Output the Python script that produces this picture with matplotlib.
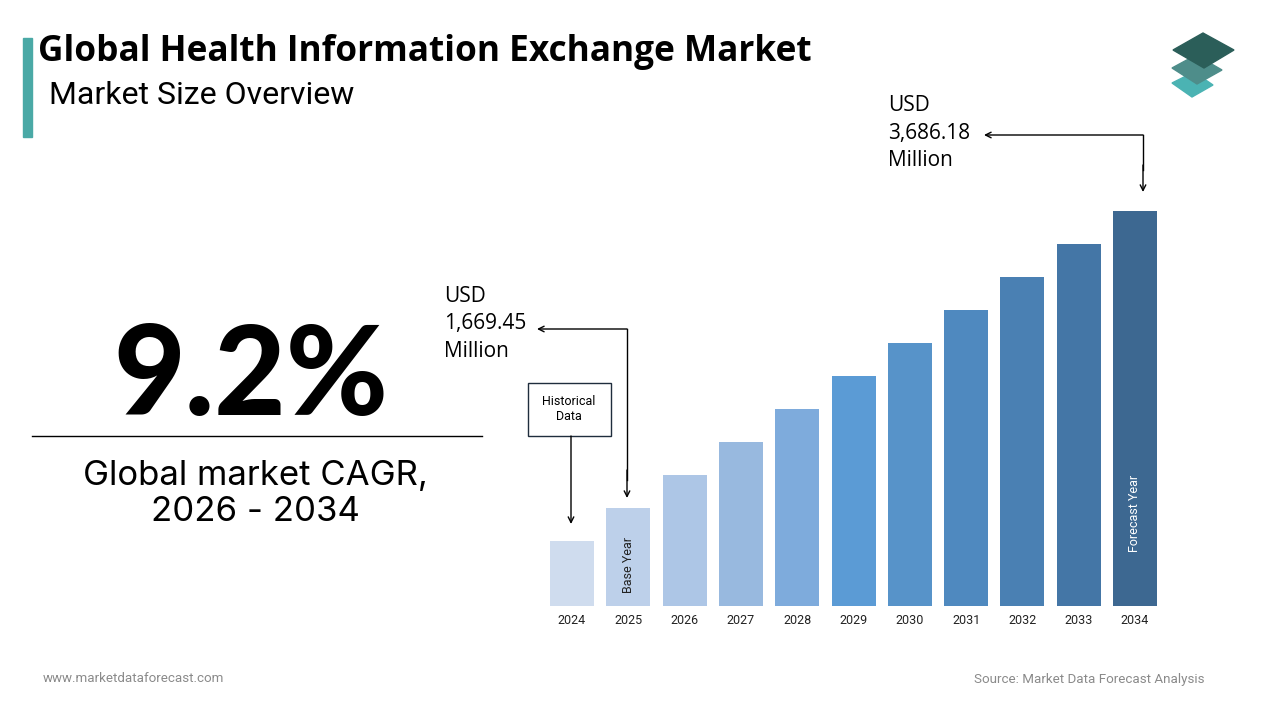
import matplotlib.pyplot as plt
from matplotlib.patches import Polygon, Rectangle

years = ['2024', '2025', '2026', '2027', '2028', '2029', '2030', '2031', '2032', '2033', '2034']
# bar heights as drawn (illustrative, not to scale with the USD values)
heights = [65, 98, 131, 164, 197, 230, 263, 296, 329, 362, 395]
bar_colors = ['#cfdcee', '#bdd0ea', '#adc6e6', '#98b9df', '#7eabdc', '#5b9bd5',
              '#5793c9', '#4f89bf', '#4a80b3', '#4476a6', '#3d6891']
value_2025 = '1,669.45'
value_2034 = '3,686.18'
cagr = '9.2%'
cagr_label = 'Global market CAGR,\n2026 - 2034'
title = 'Global Health Information Exchange Market'
subtitle = 'Market Size Overview'

W, H = 1280, 720
fig = plt.figure(figsize=(12.8, 7.2), dpi=100)
fig.patch.set_facecolor('white')

# bar chart axes, placed in pixel terms
step = 56.3
left_px, right_px = 540, 1170
bottom_px, top_px = 606, 206
ax = fig.add_axes([left_px / W, 1 - bottom_px / H, (right_px - left_px) / W, (bottom_px - top_px) / H])
x = list(range(len(years)))
ax.bar(x, heights, width=44 / step, color=bar_colors)
ax.set_xlim(-(572 - left_px) / step, 10 + (right_px - 1135) / step)
ax.set_ylim(0, bottom_px - top_px)
ax.axis('off')
for i, yr in enumerate(years):
    ax.text(i, -14, yr, ha='center', va='center', fontsize=9, family='Roboto', color='#222222')
ax.text(1, heights[1] / 2 - 8, 'Base Year', rotation=90, ha='center', va='center',
        fontsize=9, family='Roboto', color='#222222')
ax.text(10, 93, 'Forecast Year', rotation=90, ha='center', va='center',
        fontsize=9, family='Roboto', color='white')

# overlay in pixel coordinates for decoration
ov = fig.add_axes([0, 0, 1, 1], facecolor='none')
ov.set_xlim(0, W)
ov.set_ylim(H, 0)
ov.axis('off')

ov.add_patch(Rectangle((23, 38), 9, 99, color='#4aa9a6'))
ov.text(38, 52, title, fontsize=25.4, fontweight='bold', family='Open Sans', va='center', ha='left')
ov.text(49, 95, subtitle, fontsize=23, family='Roboto', va='center', ha='left')

# logo
ov.add_patch(Polygon([(1172, 83), (1194, 72), (1213, 85), (1192, 97)], color='#4bb3b3'))
ov.add_patch(Polygon([(1172, 68), (1196, 55), (1222, 70), (1197, 84)], color='#4e8d8a'))
ov.add_patch(Polygon([(1173, 50), (1203, 33), (1234, 50), (1204, 68)], color='#2b5e59'))

# CAGR block
ov.text(251, 379, cagr, fontsize=89, fontweight='black', family='Lato', ha='center', va='center')
ov.plot([32, 482], [436, 436], color='black', lw=1)
ov.text(255, 494, cagr_label, fontsize=25, family='Inter', ha='center', va='center', linespacing=1.15)

# annotation for 2025
ov.text(444, 324, 'USD\n' + value_2025 + '\nMillion', fontsize=15, family='Open Sans',
        ha='left', va='center', linespacing=1.38)
ov.plot([627, 627], [329, 480], color='black', lw=1)
ov.annotate('', xy=(537, 329), xytext=(627, 329),
            arrowprops=dict(arrowstyle='->', lw=1, color='black', shrinkA=0, shrinkB=0))
ov.annotate('', xy=(627, 498), xytext=(627, 470),
            arrowprops=dict(arrowstyle='->', lw=1, color='black', shrinkA=0, shrinkB=0))

# annotation for 2034
ov.text(888, 133, 'USD\n' + value_2034 + '\nMillion', fontsize=15, family='Open Sans',
        ha='left', va='center', linespacing=1.38)
ov.plot([1143, 1143], [135, 170], color='black', lw=1)
ov.annotate('', xy=(984, 135), xytext=(1143, 135),
            arrowprops=dict(arrowstyle='->', lw=1, color='black', shrinkA=0, shrinkB=0))
ov.annotate('', xy=(1143, 192), xytext=(1143, 165),
            arrowprops=dict(arrowstyle='->', lw=1, color='black', shrinkA=0, shrinkB=0))

# historical data box
ov.add_patch(Rectangle((528, 383), 83, 53, fill=False, edgecolor='#1f2d3d', lw=1))
ov.text(569, 409, 'Historical\nData', fontsize=9, family='Roboto', ha='center', va='center')
ov.annotate('', xy=(571, 524), xytext=(571, 436),
            arrowprops=dict(arrowstyle='->', lw=1, color='black', shrinkA=0, shrinkB=0))

# footer
ov.text(43, 679, 'www.marketdataforecast.com', fontsize=9.6, family='Roboto', color='#8a8a8a',
        ha='left', va='center')
ov.text(1204, 679, 'Source: Market Data Forecast Analysis', fontsize=9.6, family='Roboto',
        color='#8a8a8a', ha='right', va='center')

fig.savefig('out.png', dpi=100)
